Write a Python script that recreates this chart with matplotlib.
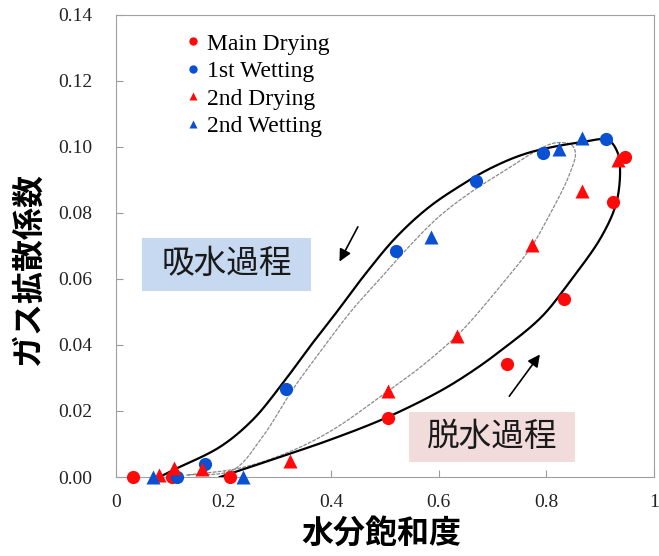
import numpy as np
import matplotlib
matplotlib.use('Agg')
from matplotlib import pyplot as plt
from matplotlib.patches import Rectangle
from matplotlib.lines import Line2D

# 測定点
main_dry_x = [0.031, 0.105, 0.211, 0.506, 0.726, 0.833, 0.924, 0.946]
main_dry_y = [0.0, 0.0, 0.0, 0.0179, 0.0342, 0.054, 0.0833, 0.097]

wet1_x = [0.114, 0.165, 0.316, 0.520, 0.670, 0.793, 0.911]
wet1_y = [0.0, 0.0039, 0.0267, 0.0685, 0.0897, 0.098, 0.1024]

dry2_x = [0.080, 0.107, 0.159, 0.323, 0.506, 0.633, 0.774, 0.867, 0.933]
dry2_y = [0.0006, 0.0027, 0.0024, 0.005, 0.026, 0.0427, 0.0703, 0.0867, 0.096]

wet2_x = [0.069, 0.237, 0.585, 0.824, 0.867]
wet2_y = [0.0, 0.0, 0.0727, 0.0993, 0.1027]

# 主ループ(外側の太線)
outer_x = [0.081, 0.106, 0.193, 0.254, 0.309, 0.359, 0.409, 0.465, 0.520, 0.580,
           0.640, 0.700, 0.767, 0.865, 0.915, 0.933, 0.937, 0.930, 0.902, 0.846,
           0.791, 0.717, 0.660, 0.600, 0.500, 0.400, 0.300, 0.193]
outer_y = [0.0, 0.0021, 0.0091, 0.0173, 0.0282, 0.0392, 0.0497, 0.0618, 0.0725, 0.0815,
           0.0882, 0.0938, 0.0982, 0.1014, 0.102, 0.098, 0.093, 0.083, 0.0727, 0.0597,
           0.0485, 0.0385, 0.0318, 0.0258, 0.0178, 0.0114, 0.0058, 0.0]

# 2回目のループ(内側の細線)
inner_x = [0.131, 0.217, 0.272, 0.328, 0.378, 0.439, 0.489, 0.539, 0.600, 0.661,
           0.720, 0.785, 0.817, 0.846, 0.854, 0.841, 0.804, 0.772, 0.724, 0.661,
           0.633, 0.570, 0.507, 0.402, 0.322, 0.230, 0.131]
inner_y = [0.0006, 0.0021, 0.0121, 0.0264, 0.0376, 0.0506, 0.0597, 0.0688, 0.0788, 0.0864,
           0.0925, 0.0991, 0.1012, 0.1006, 0.0982, 0.0909, 0.0788, 0.0697, 0.0597, 0.0475,
           0.0427, 0.0338, 0.0262, 0.0142, 0.0076, 0.0027, 0.0006]

xticks = [0, 0.2, 0.4, 0.6, 0.8, 1.0]
xtick_labels = ['0', '0.2', '0.4', '0.6', '0.8', '1']
yticks = [0.00, 0.02, 0.04, 0.06, 0.08, 0.10, 0.12, 0.14]

RED = '#ff0a0a'
BLUE = '#0a50d2'
JP = ['Noto Sans CJK JP', 'DejaVu Sans']
SERIF = 'Liberation Serif'


def smooth(xs, ys, n=16, ysc=6.1):
    # centripetal Catmull-Rom で点を滑らかにつなぐ
    p = np.column_stack([xs, np.asarray(ys) * ysc])
    p = np.vstack([2 * p[0] - p[1], p, 2 * p[-1] - p[-2]])
    out = []
    for i in range(1, len(p) - 2):
        P0, P1, P2, P3 = p[i - 1], p[i], p[i + 1], p[i + 2]
        t0 = 0.0
        t1 = t0 + np.linalg.norm(P1 - P0) ** 0.5
        t2 = t1 + np.linalg.norm(P2 - P1) ** 0.5
        t3 = t2 + np.linalg.norm(P3 - P2) ** 0.5
        for t in np.linspace(t1, t2, n, endpoint=False):
            A1 = (t1 - t) / (t1 - t0) * P0 + (t - t0) / (t1 - t0) * P1
            A2 = (t2 - t) / (t2 - t1) * P1 + (t - t1) / (t2 - t1) * P2
            A3 = (t3 - t) / (t3 - t2) * P2 + (t - t2) / (t3 - t2) * P3
            B1 = (t2 - t) / (t2 - t0) * A1 + (t - t0) / (t2 - t0) * A2
            B2 = (t3 - t) / (t3 - t1) * A2 + (t - t1) / (t3 - t1) * A3
            out.append((t2 - t) / (t2 - t1) * B1 + (t - t1) / (t2 - t1) * B2)
    out.append(p[-2])
    out = np.array(out)
    return out[:, 0], out[:, 1] / ysc


fig = plt.figure(figsize=(6.59, 5.56), dpi=100)
ax = fig.add_axes([0.176, 0.142, 0.8164, 0.8316])

cx, cy = smooth(inner_x, inner_y)
ax.plot(cx, cy, color='#8a8a8a', lw=0.9, ls=(0, (3, 1)), zorder=2)
cx, cy = smooth(outer_x, outer_y)
ax.plot(cx, cy, color='black', lw=1.6, zorder=3)

ms = 9.5
ax.plot(main_dry_x, main_dry_y, 'o', color=RED, ms=ms, mec='none', clip_on=False, zorder=5)
ax.plot(wet1_x, wet1_y, 'o', color=BLUE, ms=ms, mec='none', clip_on=False, zorder=5)
ax.plot(dry2_x, dry2_y, '^', color=RED, ms=ms, mec='none', clip_on=False, zorder=5)
ax.plot(wet2_x, wet2_y, '^', color=BLUE, ms=ms, mec='none', clip_on=False, zorder=5)

# 矢印
ax.annotate('', xy=(0.413, 0.0645), xytext=(0.452, 0.0765),
            arrowprops=dict(arrowstyle='-|>', color='black', lw=1.2, mutation_scale=18))
ax.annotate('', xy=(0.791, 0.0378), xytext=(0.728, 0.0238),
            arrowprops=dict(arrowstyle='-|>', color='black', lw=1.2, mutation_scale=18))

# 過程ラベル
ax.add_patch(Rectangle((0.048, 0.403), 0.315, 0.115, transform=ax.transAxes,
                       facecolor='#c6d9f0', edgecolor='none', zorder=1))
ax.text(0.2056, 0.461, '吸水過程', transform=ax.transAxes, ha='center', va='center',
        fontsize=23.5, family=JP, color='#1a1a1a', zorder=6)
ax.add_patch(Rectangle((0.544, 0.032), 0.309, 0.108, transform=ax.transAxes,
                       facecolor='#f2dcdb', edgecolor='none', zorder=1))
ax.text(0.699, 0.0866, '脱水過程', transform=ax.transAxes, ha='center', va='center',
        fontsize=23.5, family=JP, color='#1a1a1a', zorder=6)

ax.set_xlim(0, 1)
ax.set_ylim(0, 0.14)
ax.set_xticks(xticks)
ax.set_xticklabels(xtick_labels)
ax.set_yticks(yticks)
ax.set_yticklabels(['%.2f' % v for v in yticks])
ax.tick_params(direction='in', length=5, width=0.8, color='#9a9a9a', labelsize=14,
               labelcolor='#222222')
ax.tick_params(axis='x', pad=12)
ax.tick_params(axis='y', pad=17)
for lab in ax.get_xticklabels() + ax.get_yticklabels():
    lab.set_family(SERIF)
for s in ax.spines.values():
    s.set_color('#a0a0a0')
    s.set_linewidth(0.8)

handles = [
    Line2D([], [], marker='o', ls='none', color=RED, mec='none', ms=6),
    Line2D([], [], marker='o', ls='none', color=BLUE, mec='none', ms=6),
    Line2D([], [], marker='^', ls='none', color=RED, mec='none', ms=6),
    Line2D([], [], marker='^', ls='none', color=BLUE, mec='none', ms=6),
]
labels = ['Main Drying', '1st Wetting', '2nd Drying', '2nd Wetting']
ax.legend(handles, labels, loc='upper left', bbox_to_anchor=(0.125, 0.96),
          frameon=False, prop={'family': SERIF, 'size': 17}, handlelength=0.8,
          handletextpad=0.2, labelspacing=0.25, borderpad=0, borderaxespad=0)

fig.text(0.578, 0.041, '水分飽和度', ha='center', va='center', fontsize=23,
         fontweight='bold', family=JP)
fig.text(0.043, 0.516, 'ガス拡散係数', ha='center', va='center', rotation=90,
         fontsize=23, fontweight='bold', family=JP)

fig.savefig('out.png', dpi=100)
